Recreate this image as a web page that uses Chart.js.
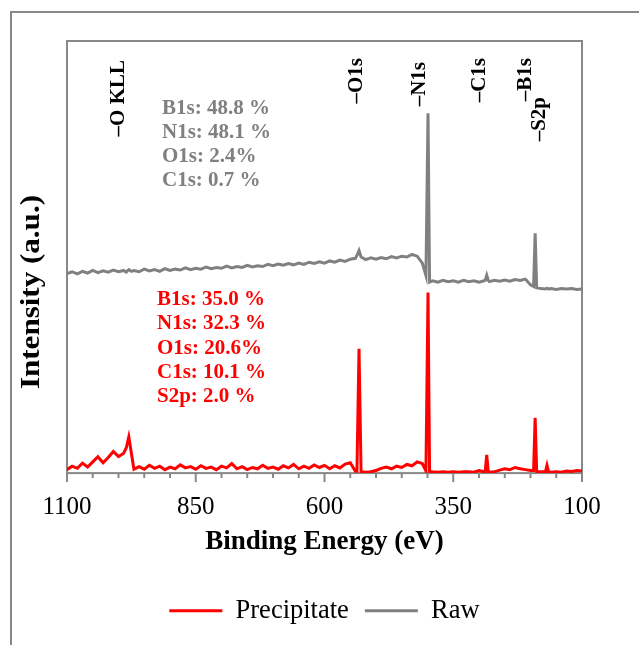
<!DOCTYPE html>
<html>
<head>
<meta charset="utf-8">
<script src="https://cdn.jsdelivr.net/npm/chart.js@4.4.1/dist/chart.umd.min.js"></script>
<style>
  html, body { margin: 0; padding: 0; background: #fff; overflow: hidden; }
  #frame { position: absolute; left: 10px; top: 11px; width: 700px; height: 700px;
           border-left: 2px solid #888; border-top: 2px solid #888; }
  #wrap { position: absolute; left: 0; top: 0; width: 639px; height: 645px; }
</style>
</head>
<body>
<div id="frame"></div>
<div id="wrap"><canvas id="xps" width="639" height="645"></canvas></div>
<script>
// binding energy (eV)
const energy = [
  1100, 1090, 1080, 1070, 1060, 1050, 1040, 1030, 1020, 1010, 1000, 990, 985, 980, 975,
  970, 960, 950, 940, 930, 920, 910, 900, 890, 880, 870, 860, 850, 840, 830, 820, 810,
  800, 790, 780, 770, 760, 750, 740, 730, 720, 710, 700, 690, 680, 670, 660, 650, 640,
  630, 620, 610, 600, 590, 580, 570, 560, 550, 540, 537, 533, 529, 520, 510, 500, 490,
  480, 470, 460, 450, 440, 430, 420, 410, 403, 399, 396, 390, 380, 370, 360, 350, 340,
  330, 320, 310, 300, 290, 288, 285, 282, 280, 270, 260, 250, 240, 230, 220, 210, 200,
  194, 191, 188, 180, 171, 168, 165, 160, 150, 140, 130, 120, 110, 100
];

// intensity (a.u.), same order as energy
const precipitate = [
  0.8, 1.6, 1.1, 2.3, 1.4, 2.6, 3.8, 2.4, 3.6, 5.0, 3.8, 4.6, 5.8, 8.4, 4.6,
  0.9, 1.5, 0.9, 1.8, 1.1, 1.6, 0.8, 1.4, 1.0, 1.9, 1.2, 1.5, 0.9, 1.7, 1.1, 1.4, 0.8,
  1.6, 1.2, 2.2, 1.0, 1.5, 0.8, 1.3, 1.0, 1.8, 1.1, 1.4, 0.9, 1.7, 1.2, 2.0, 1.0, 1.6,
  1.1, 1.9, 1.3, 1.8, 1.0, 1.7, 1.2, 2.1, 2.4, 0.4, 0.4, 28.8, 0.3, 0.2, 0.3, 0.6, 1.1,
  1.4, 1.0, 1.6, 1.3, 2.0, 1.7, 2.6, 2.2, 0.5, 41.8, 0.4, 0.3, 0.2, 0.3, 0.2, 0.3, 0.2,
  0.3, 0.3, 0.2, 0.6, 0.3, 0.3, 4.2, 0.3, 0.2, 0.3, 0.7, 1.0, 0.8, 1.3, 1.0, 0.8, 0.6,
  0.6, 12.8, 0.4, 0.3, 0.3, 1.8, 0.3, 0.2, 0.3, 0.2, 0.5, 0.4, 0.6, 0.5
];

const raw = [
  46.2, 46.6, 46.1, 46.7, 46.3, 46.9, 46.4, 46.8, 46.5, 47.0, 46.6, 46.9, 46.5, 47.1, 46.7,
  46.9, 46.6, 47.2, 46.8, 47.1, 46.7, 47.3, 46.9, 47.2, 47.0, 47.5, 47.1, 47.4, 47.2, 47.7, 47.3, 47.6,
  47.4, 47.9, 47.5, 47.8, 47.6, 48.1, 47.7, 48.0, 47.8, 48.3, 48.0, 48.4, 48.1, 48.5, 48.2, 48.6, 48.3,
  48.8, 48.5, 48.9, 48.6, 49.1, 48.8, 49.3, 49.0, 49.5, 49.7, 50.4, 51.5, 50.0, 49.4, 49.8, 49.5, 49.9,
  49.6, 50.1, 49.8, 50.2, 50.0, 50.6, 50.2, 48.6, 45.7, 83.3, 44.2, 44.5, 44.2, 44.6, 44.3, 44.5, 44.2,
  44.6, 44.3, 44.5, 44.2, 44.5, 44.6, 45.8, 44.6, 44.3, 44.6, 44.4, 44.7, 44.4, 44.8, 44.6, 44.9, 43.6,
  43.2, 55.5, 42.9, 42.7, 42.6, 42.8, 42.6, 42.7, 42.5, 42.7, 42.6, 42.7, 42.5, 42.6
];

const xTickLabels = [1100, 850, 600, 350, 100];

const peakLabels = ['\u2013O KLL', '\u2013O1s', '\u2013N1s', '\u2013C1s', '\u2013B1s', '\u2013S2p'];
const peakLabelEnergy = [999, 537, 415, 298, 209, 182];

const rawComposition = ['B1s: 48.8 %', 'N1s: 48.1 %', 'O1s: 2.4%', 'C1s: 0.7 %'];
const precipitateComposition = ['B1s: 35.0 %', 'N1s: 32.3 %', 'O1s: 20.6%', 'C1s: 10.1 %', 'S2p: 2.0 %'];

const SERIF = "'Times New Roman', 'Liberation Serif', serif";
const GRAY = '#808080';
const RED = '#ff0000';

// label tops, measured down from the plot top
const peakLabelTop = [19, 17, 21, 17, 17, 56];

const decor = {
  id: 'decor',
  beforeDatasetsDraw(chart) {
    const { ctx, chartArea: a } = chart;
    const xs = chart.scales.x;
    ctx.save();
    ctx.strokeStyle = '#888';
    ctx.lineWidth = 2;
    ctx.strokeRect(a.left, a.top, a.right - a.left, a.bottom - a.top);
    // minor ticks every 50, longer at the labelled ones
    xs.ticks.forEach(t => {
      const px = xs.getPixelForValue(t.value);
      const len = xTickLabels.includes(t.value) ? 9 : 5;
      ctx.beginPath();
      ctx.moveTo(px, a.bottom);
      ctx.lineTo(px, a.bottom + len);
      ctx.stroke();
    });
    ctx.restore();
  },
  afterDraw(chart) {
    const { ctx, chartArea: a } = chart;
    const xs = chart.scales.x;
    ctx.save();

    // y axis title (the original is drawn a bit stretched)
    ctx.fillStyle = '#000';
    ctx.font = 'bold 27px ' + SERIF;
    ctx.textAlign = 'center';
    ctx.textBaseline = 'middle';
    ctx.translate(a.left - 35, (a.top + a.bottom) / 2 + 35);
    ctx.rotate(-Math.PI / 2);
    ctx.scale(1.15, 1);
    ctx.fillText('Intensity (a.u.)', 0, 0);
    ctx.setTransform(1, 0, 0, 1, 0, 0);

    // peak labels
    ctx.font = 'bold 21px ' + SERIF;
    ctx.textAlign = 'right';
    peakLabels.forEach((txt, i) => {
      const px = xs.getPixelForValue(peakLabelEnergy[i]);
      ctx.save();
      ctx.translate(px, a.top + peakLabelTop[i]);
      ctx.rotate(-Math.PI / 2);
      ctx.fillText(txt, 0, 0);
      ctx.restore();
    });

    // atomic composition
    ctx.textAlign = 'left';
    ctx.textBaseline = 'alphabetic';
    ctx.fillStyle = GRAY;
    rawComposition.forEach((txt, i) => {
      ctx.fillText(txt, a.left + 95, a.top + 73 + i * 24);
    });
    ctx.fillStyle = RED;
    precipitateComposition.forEach((txt, i) => {
      ctx.fillText(txt, a.left + 90, a.top + 264 + i * 24.3);
    });
    ctx.restore();
  }
};

new Chart(document.getElementById('xps'), {
  type: 'line',
  data: {
    datasets: [
      {
        label: 'Precipitate',
        data: energy.map((e, i) => ({ x: e, y: precipitate[i] })),
        borderColor: RED,
        backgroundColor: RED,
        borderWidth: 3,
        pointRadius: 0,
        tension: 0
      },
      {
        label: 'Raw',
        data: energy.map((e, i) => ({ x: e, y: raw[i] })),
        borderColor: GRAY,
        backgroundColor: GRAY,
        borderWidth: 3,
        pointRadius: 0,
        tension: 0
      }
    ]
  },
  options: {
    responsive: false,
    animation: false,
    layout: { padding: { left: 67, right: 57, top: 41, bottom: 11 } },
    scales: {
      x: {
        type: 'linear',
        min: 100,
        max: 1100,
        reverse: true,
        grid: { display: false, drawTicks: false },
        border: { display: false },
        ticks: {
          stepSize: 50,
          autoSkip: false,
          maxRotation: 0,
          padding: 19,
          color: '#000',
          font: { family: SERIF, size: 25 },
          callback: v => xTickLabels.includes(v) ? String(v) : ''
        },
        title: {
          display: true,
          text: 'Binding Energy (eV)',
          color: '#000',
          font: { family: SERIF, size: 27, weight: 'bold' },
          padding: { top: -15, bottom: 23 }
        }
      },
      y: { display: false, min: 0, max: 100 }
    },
    plugins: {
      tooltip: { enabled: false },
      legend: {
        position: 'bottom',
        labels: {
          usePointStyle: true,
          pointStyle: 'line',
          pointStyleWidth: 53,
          color: '#000',
          font: { family: SERIF, size: 26.5 },
          padding: 16
        }
      }
    }
  },
  plugins: [decor]
});
</script>
</body>
</html>
